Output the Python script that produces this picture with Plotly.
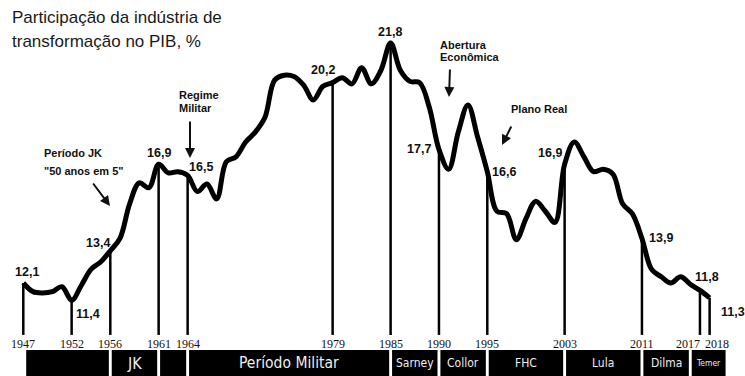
import plotly.graph_objects as go

# ---------------- data ----------------
years = list(range(1947, 2019))
share = [
    12.1, 11.75, 11.7, 11.75, 11.95, 11.4, 12.0, 12.65, 12.95, 13.4,   # 1947-1956
    13.9, 15.3, 16.15, 15.95, 16.9, 16.55, 16.6, 16.45, 15.8, 16.1,    # 1957-1966
    15.5, 17.0, 17.2, 17.8, 18.2, 18.8, 20.3, 20.5, 20.45, 20.1,       # 1967-1976
    19.5, 20.05, 20.2, 20.4, 20.15, 20.8, 20.15, 20.7, 21.8, 20.7,     # 1977-1986
    20.25, 20.2, 19.2, 17.5, 16.7, 18.2, 19.3, 18.0, 16.6, 15.0,       # 1987-1996
    14.9, 13.85, 14.7, 15.4, 15.0, 14.55, 16.9, 17.8, 17.2, 16.6,      # 1997-2006
    16.7, 16.5, 15.3, 14.9, 13.9, 12.65, 12.35, 12.1, 12.35, 12.05,    # 2007-2016
    11.8, 11.5,                                                        # 2017-2018
]

mark_years = [1947, 1952, 1956, 1961, 1964, 1979, 1985, 1990, 1995, 2003, 2011, 2017, 2018]
mark_labels = ["12,1", "11,4", "13,4", "16,9", "16,5", "20,2", "21,8",
               "17,7", "16,6", "16,9", "13,9", "11,8", "11,3"]
baseline = 10.0

period_names = ["", "JK", "", "Período Militar", "Sarney", "Collor",
                "FHC", "Lula", "Dilma", "Temer"]
period_edges = [1947.3, 1956, 1961, 1964, 1985, 1990, 1995, 2003, 2011, 2016, 2019.8]

# ---------------- layout helpers ----------------
W, H = 745, 376
X_RANGE = [1944.59, 2021.66]
Y_RANGE = [8.34, 23.54]


def px(x):
    return x / W


def py(y):
    return 1 - y / H


val = dict(zip(years, share))

fig = go.Figure()

# vertical marker lines
vx, vy = [], []
for yr in mark_years:
    vx += [yr, yr, None]
    vy += [baseline, val[yr], None]
fig.add_trace(go.Scatter(x=vx, y=vy, mode="lines",
                         line=dict(color="black", width=2.5),
                         hoverinfo="skip", showlegend=False))

# main curve
fig.add_trace(go.Scatter(x=years, y=share, mode="lines",
                         line=dict(color="black", width=5, shape="spline", smoothing=1.0),
                         showlegend=False))

annotations = []
SANS = "Liberation Sans, Arial, sans-serif"
SERIF = "Liberation Serif, Times New Roman, serif"
NARROW = "Liberation Sans Narrow, Arial Narrow, DejaVu Sans Condensed, sans-serif"

# value labels (offsets in px from the data point)
label_shift = {
    1947: (4, 11), 1952: (16, -14), 1956: (-12, 8), 1961: (0, 11), 1964: (13, 8),
    1979: (-10, 13), 1985: (-1, 11), 1990: (-20, 0), 1995: (17, 0), 2003: (-15, 11),
    2011: (19, 0), 2017: (7, 13), 2018: (23, -14),
}
for yr, lab in zip(mark_years, mark_labels):
    dx, dy = label_shift[yr]
    annotations.append(dict(x=yr, y=val[yr], xref="x", yref="y", text="<b>%s</b>" % lab,
                            showarrow=False, xshift=dx, yshift=dy,
                            font=dict(family=SANS, size=12.5, color="#111")))

# year labels under the lines
year_shift = {2017: -12, 2018: 7}
for yr in mark_years:
    annotations.append(dict(x=yr, y=baseline, xref="x", yref="y", text=str(yr),
                            showarrow=False, xshift=year_shift.get(yr, 0), yshift=-9,
                            font=dict(family=SERIF, size=12, color="#111")))

# title
for t, yy in (("Participação da indústria de", 18), ("transformação no PIB, %", 42)):
    annotations.append(dict(x=px(10), y=py(yy), xref="paper", yref="paper",
                            text=t, showarrow=False, xanchor="left", yanchor="middle",
                            font=dict(family=SANS, size=17, color="#1a1a1a")))

# text notes
notes = [
    ("Período JK", 42, 153), ('"50 anos em 5"', 42, 171),
    ("Regime", 177, 95), ("Militar", 177, 108),
    ("Abertura", 438, 45), ("Econômica", 438, 57),
    ("Plano Real", 509, 109),
]
for t, x0, y0 in notes:
    annotations.append(dict(x=px(x0), y=py(y0), xref="paper", yref="paper",
                            text="<b>%s</b>" % t, showarrow=False,
                            xanchor="left", yanchor="middle",
                            font=dict(family=SANS, size=11, color="#111")))

# arrows (head x, head y, tail offset)
arrows = [(110, 206, -18, -24), (190, 158, 0, -38), (449, 97, 1, -29), (502, 145, 10, -20)]
for hx, hy, ax, ay in arrows:
    annotations.append(dict(x=px(hx), y=py(hy), xref="paper", yref="paper", text="",
                            showarrow=True, ax=ax, ay=ay, arrowhead=2, arrowsize=1,
                            arrowwidth=2, arrowcolor="#111"))

# bottom period band
shapes = []
band_top = py(350)
for i, name in enumerate(period_names):
    x0 = period_edges[i] + (0.15 if i > 0 else 0)
    x1 = period_edges[i + 1] - 0.15
    shapes.append(dict(type="rect", xref="x", yref="paper", x0=x0, x1=x1,
                       y0=0, y1=band_top, fillcolor="black", line=dict(width=0)))
    if name:
        size = {"JK": 16, "Período Militar": 15.5, "Temer": 8.5}.get(name, 12)
        annotations.append(dict(x=(x0 + x1) / 2, y=py(363), xref="x", yref="paper",
                                text=name, showarrow=False, yanchor="middle",
                                font=dict(family=NARROW, size=size, color="#eeeeee")))

fig.update_layout(
    width=W, height=H,
    margin=dict(l=0, r=0, t=0, b=0),
    paper_bgcolor="white", plot_bgcolor="white",
    xaxis=dict(range=X_RANGE, visible=False, fixedrange=True),
    yaxis=dict(range=Y_RANGE, visible=False, fixedrange=True),
    annotations=annotations, shapes=shapes,
    showlegend=False,
)

fig.write_html("out.html")
